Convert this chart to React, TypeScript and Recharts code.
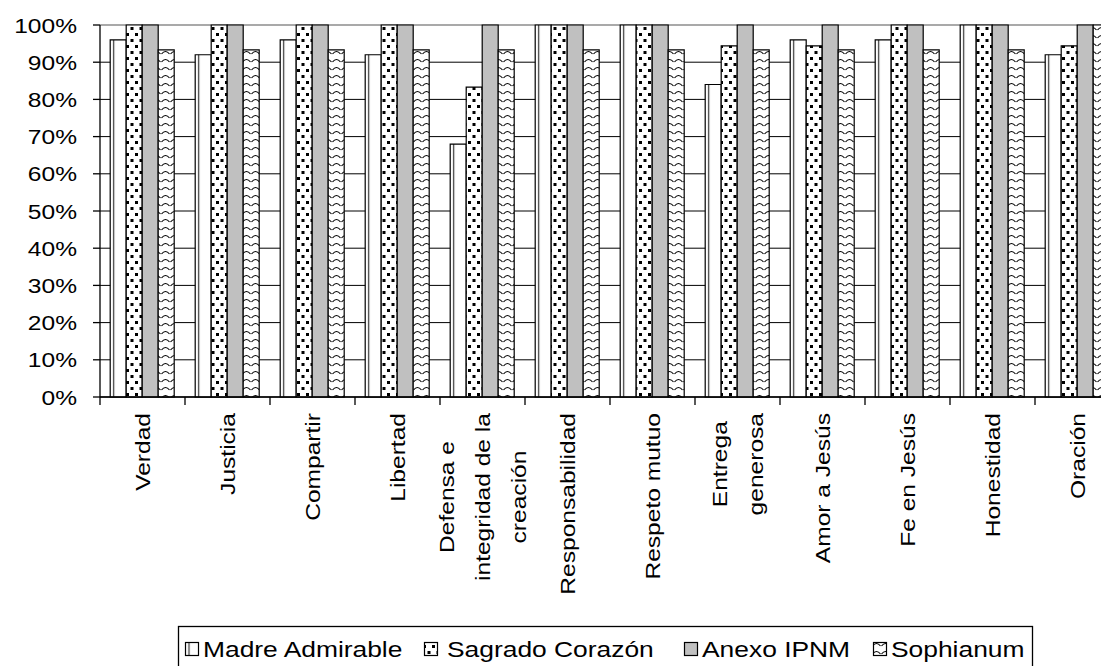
import React from "react";
import { BarChart, Bar, XAxis, YAxis, CartesianGrid } from "recharts";

const categories = [
  "Verdad",
  "Justicia",
  "Compartir",
  "Libertad",
  "Defensa e\nintegridad de la\ncreación",
  "Responsabilidad",
  "Respeto mutuo",
  "Entrega\ngenerosa",
  "Amor a Jesús",
  "Fe en Jesús",
  "Honestidad",
  "Oración",
];
const madreAdmirable = [96, 92, 96, 92, 68, 100, 100, 84, 96, 96, 100, 92];
const sagradoCorazon = [100, 100, 100, 100, 83.3, 100, 100, 94.4, 94.4, 100, 100, 94.4];
const anexoIPNM = [100, 100, 100, 100, 100, 100, 100, 100, 100, 100, 100, 100];
const sophianum = [93.3, 93.3, 93.3, 93.3, 93.3, 93.3, 93.3, 93.3, 93.3, 93.3, 93.3, 100];
const yTicks = [0, 10, 20, 30, 40, 50, 60, 70, 80, 90, 100];

const seriesNames = ["Madre Admirable", "Sagrado Corazón", "Anexo IPNM", "Sophianum"];
const seriesKeys = ["ma", "sc", "ipnm", "soph"];
const seriesFills = ["url(#pMA)", "url(#pSC)", "#C0C0C0", "url(#pSO)"];

const data = categories.map((name, i) => ({
  name,
  ma: madreAdmirable[i],
  sc: sagradoCorazon[i],
  ipnm: anexoIPNM[i],
  soph: sophianum[i],
}));

const FONT = "'Liberation Sans', Arial, sans-serif";
const FS = 21;
const SX = 1.17;

let ctx: CanvasRenderingContext2D | null = null;
function measure(t: string) {
  if (!ctx) {
    const c = document.createElement("canvas");
    ctx = c.getContext("2d");
  }
  if (!ctx) return t.length * FS * 0.55 * SX;
  ctx.font = `${FS}px 'Liberation Sans'`;
  return ctx.measureText(t).width * SX;
}

const XTick = (props: any) => {
  const { x, y, payload } = props;
  const half = payload && payload.offset ? payload.offset : 42.5;
  const lines = String(payload.value).split("\n");
  const maxLen = Math.max(...lines.map(measure));
  const top = y + 16;
  const cy = top + maxLen / 2;
  const spacing = 36;
  return (
    <g>
      <line x1={x - half} x2={x - half} y1={y} y2={y + 8} stroke="#000" strokeWidth={1.3} />
      {lines.map((ln, i) => {
        const cx = x + (i - (lines.length - 1) / 2) * spacing;
        return (
          <text
            key={i}
            transform={`translate(${cx},${cy}) rotate(-90) scale(${SX},1)`}
            textAnchor="middle"
            dy="0.36em"
            fontSize={FS}
            fontFamily={FONT}
            fill="#000"
          >
            {ln}
          </text>
        );
      })}
    </g>
  );
};

const YTick = (props: any) => {
  const { x, y, payload } = props;
  return (
    <text
      transform={`translate(${x},${y}) scale(${SX},1)`}
      textAnchor="end"
      dy="0.36em"
      fontSize={FS}
      fontFamily={FONT}
      fill="#000"
    >
      {payload.value}%
    </text>
  );
};

const gridLine = (p: any) => {
  const gray = p.y1 < 20;
  return (
    <line
      key={`g-${p.index}-${p.y1}`}
      x1={p.x1}
      x2={p.x2}
      y1={p.y1}
      y2={p.y2}
      stroke={gray ? "#8c8c8c" : "#000"}
      strokeWidth={gray ? 1.5 : 1}
    />
  );
};

// legend layout (chart coords)
const legendTextX = [195, 439, 694, 883];
const legendIconX = [177, 416, 676, 865];

export default function App() {
  return (
    <div style={{ position: "relative", width: 1101, height: 658, overflow: "hidden" }}>
      <BarChart
        width={1150}
        height={658}
        data={data}
        margin={{ top: 17, right: 38, bottom: 0, left: 0 }}
        barCategoryGap="12%"
        barGap={0}
      >
        <defs>
          <pattern id="pMA" patternUnits="objectBoundingBox" width="1" height="1">
            <rect x={0} y={0} width={200} height={1000} fill="#fff" />
            <line x1={3.5} x2={3.5} y1={0} y2={1000} stroke="#333" strokeWidth={1.2} />
          </pattern>
          <pattern id="pSC" patternUnits="userSpaceOnUse" width={9} height={12}>
            <rect x={0} y={0} width={9} height={12} fill="#fff" />
            <rect x={1} y={1} width={3} height={3} fill="#000" />
            <rect x={5.5} y={7} width={3} height={3} fill="#000" />
          </pattern>
          <pattern id="pSO" patternUnits="userSpaceOnUse" width={9} height={8}>
            <rect x={0} y={0} width={9} height={8} fill="#fff" />
            <path d="M0.5,6 Q4.5,1 8.5,6" fill="none" stroke="#000" strokeWidth={1.2} />
          </pattern>
        </defs>
        <CartesianGrid vertical={false} horizontal={gridLine} />
        <XAxis
          dataKey="name"
          interval={0}
          tickLine={false}
          tickSize={0}
          tickMargin={0}
          height={269}
          axisLine={{ stroke: "#000", strokeWidth: 1.3 }}
          tick={<XTick />}
        />
        <YAxis
          domain={[0, 100]}
          ticks={yTicks}
          width={92}
          tickSize={7}
          tickMargin={16}
          interval={0}
          axisLine={{ stroke: "#000", strokeWidth: 1.3 }}
          tickLine={{ stroke: "#000", strokeWidth: 1.3 }}
          tick={<YTick />}
        />
        {seriesKeys.map((k, i) => (
          <Bar
            key={k}
            dataKey={k}
            name={seriesNames[i]}
            fill={seriesFills[i]}
            stroke="#000"
            strokeWidth={1.2}
            isAnimationActive={false}
          />
        ))}
      </BarChart>
      <svg
        width={1101}
        height={658}
        style={{ position: "absolute", left: 0, top: 0, pointerEvents: "none" }}
      >
        <rect x={170.5} y={618.5} width={854} height={50} fill="none" stroke="#000" strokeWidth={1.3} />
        {seriesNames.map((n, i) => (
          <g key={n}>
            <rect
              x={legendIconX[i] + 0.5}
              y={634.5}
              width={13}
              height={13}
              fill={seriesFills[i]}
              stroke="#000"
              strokeWidth={1.2}
            />
            <text
              transform={`translate(${legendTextX[i]},649) scale(1.2,1)`}
              fontSize={22}
              fontFamily={FONT}
              fill="#000"
            >
              {n}
            </text>
          </g>
        ))}
      </svg>
    </div>
  );
}
